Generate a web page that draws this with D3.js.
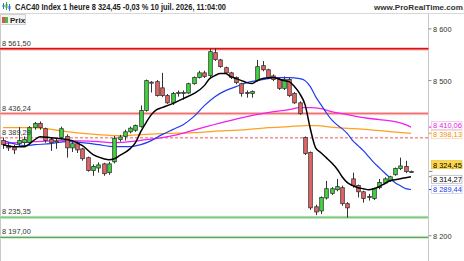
<!DOCTYPE html>
<html><head><meta charset="utf-8">
<script src="https://cdn.jsdelivr.net/npm/d3@7"></script>
<style>body{margin:0;background:#fff}svg{display:block;font-family:"Liberation Sans",Arial,sans-serif}</style>
</head><body><svg id="c" width="464" height="261"></svg>
<script>
// ---- data ----
const titleText = "CAC40 Index 1 heure 8 324,45 -0,03 % 10 juil. 2026, 11:04:00";
const opens  = [8384,8374,8372,8378,8380,8380,8409,8417,8407,8386,8382,8390,8392,8370,8378,8368,8351,8326,8331,8339,8322,8343,8386,8392,8401,8404,8411,8442,8497,8498,8486,8471,8457,8475,8477,8476,8494,8506,8515,8510,8554,8540,8525,8515,8506,8494,8477,8475,8500,8529,8521,8509,8502,8485,8502,8475,8457,8390,8361,8256,8248,8273,8282,8289,8293,8262,8310,8297,8285,8276,8272,8293,8302,8306,8318,8330,8334,8324];
const highs  = [8390,8380,8376,8410,8392,8412,8420,8421,8409,8390,8388,8411,8396,8382,8382,8370,8353,8338,8342,8341,8343,8393,8395,8405,8411,8415,8452,8502,8499,8501,8515,8474,8478,8481,8481,8496,8508,8519,8519,8561,8562,8542,8527,8517,8508,8496,8481,8481,8540,8538,8523,8512,8505,8508,8505,8478,8460,8392,8363,8260,8276,8306,8294,8310,8297,8265,8322,8299,8287,8281,8293,8310,8313,8316,8332,8351,8345,8326];
const lows   = [8368,8364,8358,8372,8374,8376,8405,8405,8380,8364,8368,8386,8351,8362,8360,8345,8324,8316,8322,8316,8318,8340,8382,8384,8398,8401,8409,8440,8477,8469,8468,8455,8453,8469,8463,8474,8492,8504,8505,8506,8538,8525,8513,8503,8493,8469,8467,8467,8498,8518,8503,8499,8482,8482,8468,8455,8434,8356,8250,8240,8242,8270,8279,8286,8258,8235,8293,8274,8264,8268,8269,8290,8300,8304,8316,8327,8321,8322];
const closes = [8376,8370,8366,8384,8386,8409,8417,8409,8384,8380,8383,8407,8370,8378,8366,8349,8326,8334,8337,8320,8339,8388,8391,8401,8408,8413,8442,8500,8495,8471,8471,8457,8475,8477,8477,8494,8506,8515,8508,8556,8541,8527,8515,8506,8496,8475,8476,8479,8527,8521,8506,8502,8485,8502,8471,8457,8436,8359,8254,8246,8274,8291,8291,8295,8262,8254,8297,8285,8272,8275,8291,8303,8310,8314,8330,8335,8324,8324.45];

// moving averages sampled at candle index
const maBlackIdx = [0,2,4,6,7,9,11,13,15,17,19,20,21,22,24,25,26,27,28,29,30,32,34,36,38,39,40,41,42,43,44,45,46,47,48,49,51,53,54,55,56,57,58,59,60,61,62,63,64,65,66,67,68,69,70,71,72,73,74,75,76,77];
const maBlackVal = [8376.1,8372.3,8372.3,8385.8,8391.6,8389.7,8387.7,8383.9,8374.2,8356.8,8349.0,8347.1,8349.0,8354.8,8368.4,8380.0,8401.3,8418.7,8434.2,8443.9,8447.7,8455.5,8465.2,8474.8,8490.3,8503.9,8509.7,8513.5,8513.5,8507.7,8503.9,8500.0,8496.1,8494.2,8500.0,8503.9,8505.8,8500.0,8498.1,8488.4,8474.8,8453.5,8407.0,8370.0,8360.6,8351.0,8341.3,8329.7,8314.2,8302.6,8296.8,8292.9,8291.0,8289.0,8291.0,8294.8,8300.6,8306.5,8308.4,8310.3,8312.3,8314.27];
const maBlueIdx = [0,2,4,6,9,12,15,18,21,24,26,28,30,32,34,36,38,40,42,44,46,48,50,52,54,56,57,58,59,60,61,62,63,64,65,66,67,68,69,70,71,72,73,74,75,76,77];
const maBlueVal = [8383.9,8378.1,8374.2,8376.1,8378.1,8381.9,8380.0,8376.1,8372.3,8372.3,8376.1,8383.9,8395.5,8405.2,8414.8,8430.3,8451.6,8469.0,8480.6,8488.4,8496.1,8500.0,8503.9,8505.8,8505.8,8503.9,8500.0,8488.4,8469.0,8453.5,8438.1,8424.5,8414.8,8407.1,8397.4,8383.9,8374.2,8364.5,8352.9,8341.3,8331.6,8321.9,8312.3,8302.6,8296.8,8291.0,8289.44];
const maPinkIdx = [0,6,12,18,21,24,27,30,33,37,42,46,50,54,56,58,60,62,65,68,71,74,76,77];
const maPinkVal = [8378.1,8381.9,8383.9,8381.9,8380.0,8381.9,8385.8,8389.7,8395.5,8407.1,8420.6,8430.3,8438.1,8443.9,8447.7,8447.7,8445.8,8440.0,8434.2,8428.4,8424.5,8420.6,8414.8,8410.06];
const maOrangeIdx = [0,6,8,12,18,22,26,30,36,42,46,50,54,57,59,63,69,73,77];
const maOrangeVal = [8409.0,8409.0,8407.1,8401.3,8395.5,8393.5,8395.5,8397.4,8399.4,8403.2,8405.2,8409.0,8411.0,8412.9,8412.9,8409.0,8405.2,8401.3,8398.13];

const levelVals   = [8561.50, 8436.24, 8389.29, 8235.35, 8197.00];
const levelLabels = ["8 561,50","8 436,24","8 389,29","8 235,35","8 197,00"];
const tickVals   = [8600, 8500, 8200];
const tickLabels = ["8 600","8 500","8 200"];
const lastLabels = ["8 410,06","8 398,13","8 324,45","8 314,27","8 289,44"];

// ---- drawing ----
const svg = d3.select("#c");
const W = 464, H = 261, axisX = 428.5;
const x = d3.scaleLinear().domain([0, 77]).range([3, 411]);
const y = d3.scaleLinear().domain([8197, 8561.5]).range([237.3, 48.8]);
const FS = 7.4;

// header
const icon = svg.append("g");
[[3,3,8,"#3a6ee8"],[6,2,9,"#2fb52f"],[9,4,10,"#3a6ee8"]].forEach(d=>{
  icon.append("line").attr("x1",d[0]+0.5).attr("x2",d[0]+0.5).attr("y1",d[1]).attr("y2",d[2]+1).attr("stroke",d[3]).attr("stroke-width",1);
  icon.append("rect").attr("x",d[0]-0.5).attr("y",d[1]+2).attr("width",2).attr("height",d[2]-d[1]-3).attr("fill",d[3]);
});
svg.append("text").attr("x",15).attr("y",10).attr("font-size",8.3).attr("font-weight","bold").attr("fill","#222")
  .attr("textLength",211).attr("lengthAdjust","spacingAndGlyphs").text(titleText);
svg.append("text").attr("x",463).attr("y",10).attr("text-anchor","end").attr("font-size",8).attr("font-weight","bold").attr("fill","#333")
  .attr("textLength",89).attr("lengthAdjust","spacingAndGlyphs").text("www.ProRealTime.com");
svg.append("line").attr("x1",0).attr("x2",W).attr("y1",13.5).attr("y2",13.5).attr("stroke","#d8d8d8");
// legend box
svg.append("rect").attr("x",0.5).attr("y",14.5).attr("width",25).attr("height",10).attr("fill","#f4f4f4").attr("stroke","#d0d0d0");
svg.append("rect").attr("x",2).attr("y",17).attr("width",3).attr("height",6).attr("fill","#e05050");
svg.append("rect").attr("x",5).attr("y",17).attr("width",3).attr("height",6).attr("fill","#40c040");
svg.append("text").attr("x",10).attr("y",22.5).attr("font-size",8).attr("font-weight","bold").attr("fill","#222").text("Prix");

// left border and axis line
svg.append("line").attr("x1",0.5).attr("x2",0.5).attr("y1",25).attr("y2",H).attr("stroke","#c8c8c8");
svg.append("line").attr("x1",axisX).attr("x2",axisX).attr("y1",14).attr("y2",H).attr("stroke","#c8c8c8");

// levels
const levelStyle = [
  {c:"#e01010", w:1.5, halo:"#f6b8b8", dash:null},
  {c:"#f07070", w:1.5, halo:"#fbd4d4", dash:null},
  {c:"#f03030", w:0.8, halo:null, dash:"3,2"},
  {c:"#80c880", w:1.7, halo:"#d4eed4", dash:null},
  {c:"#60a860", w:1.2, halo:"#d4eed4", dash:null}
];
levelVals.forEach((v,i)=>{
  const s = levelStyle[i], yy = y(v);
  if (s.halo) svg.append("line").attr("x1",0).attr("x2",axisX).attr("y1",yy).attr("y2",yy).attr("stroke",s.halo).attr("stroke-width",3.2);
  svg.append("line").attr("x1",0).attr("x2",axisX).attr("y1",yy).attr("y2",yy).attr("stroke",s.c).attr("stroke-width",s.w).attr("stroke-dasharray",s.dash);
});

function maLine(idx, vals, color, w){
  const pts = idx.map((d,i)=>[x(d), y(vals[i])]);
  svg.append("path").attr("d", d3.line().curve(d3.curveMonotoneX)(pts)).attr("fill","none").attr("stroke",color).attr("stroke-width",w);
}
maLine(maOrangeIdx, maOrangeVal, "#ffa020", 1.3);
maLine(maPinkIdx, maPinkVal, "#f020f0", 1.3);
maLine(maBlueIdx, maBlueVal, "#1f3cf0", 1.2);

// candles
const cg = svg.append("g");
opens.forEach((o,i)=>{
  const c = closes[i], cx = Math.round(x(i)) + 0.5;
  const up = c >= o;
  cg.append("line").attr("x1",cx).attr("x2",cx).attr("y1",y(highs[i])).attr("y2",y(lows[i])).attr("stroke","#333").attr("stroke-width",1);
  const top = y(Math.max(o,c)), bot = y(Math.min(o,c));
  const h = Math.max(bot-top, 1);
  cg.append("rect").attr("x",cx-1.8).attr("y",top).attr("width",3.6).attr("height",h)
    .attr("fill", up ? "#3ed83e" : "#e86464").attr("stroke","#333").attr("stroke-width",0.8);
});
maLine(maBlackIdx, maBlackVal, "#000", 1.5);

// level labels
levelVals.forEach((v,i)=>{
  svg.append("text").attr("x",2).attr("y",y(v)-3).attr("font-size",FS).attr("fill","#333").text(levelLabels[i]);
});

// axis ticks
tickVals.forEach((v,i)=>{
  svg.append("line").attr("x1",axisX).attr("x2",axisX+3).attr("y1",y(v)).attr("y2",y(v)).attr("stroke","#888");
  svg.append("text").attr("x",433).attr("y",y(v)+3).attr("font-size",FS).attr("fill","#333").text(tickLabels[i]);
});

// last value labels
const lastStyle = [
  {v:8410.06, yc:125.5, tc:"#e020e0", bg:"#fff", bd:"#f0c0f0", tick:"#e020e0"},
  {v:8398.13, yc:134.5, tc:"#f09010", bg:"#fff", bd:"#f8d8b0", tick:"#f09010"},
  {v:8324.45, yc:164.7, tc:"#000", bg:"#ffd84a", bd:"#e8c040", tick:"#888"},
  {v:8314.27, yc:179.3, tc:"#000", bg:"#fff", bd:"#b8b8b8", tick:"#888"},
  {v:8289.44, yc:189.5, tc:"#1f3cf0", bg:"#fff", bd:"#c8d0f0", tick:"#1f3cf0"}
];
lastStyle.forEach((s,i)=>{
  svg.append("line").attr("x1",axisX+0.5).attr("x2",axisX+4).attr("y1",y(s.v)).attr("y2",y(s.v)).attr("stroke",s.tick);
  svg.append("rect").attr("x",431.5).attr("y",s.yc-4).attr("width",30.5).attr("height",8).attr("fill",s.bg).attr("stroke",s.bd).attr("stroke-width",0.8);
  svg.append("text").attr("x",433).attr("y",s.yc+2.8).attr("font-size",FS).attr("fill",s.tc).text(lastLabels[i]);
});
</script></body></html>
